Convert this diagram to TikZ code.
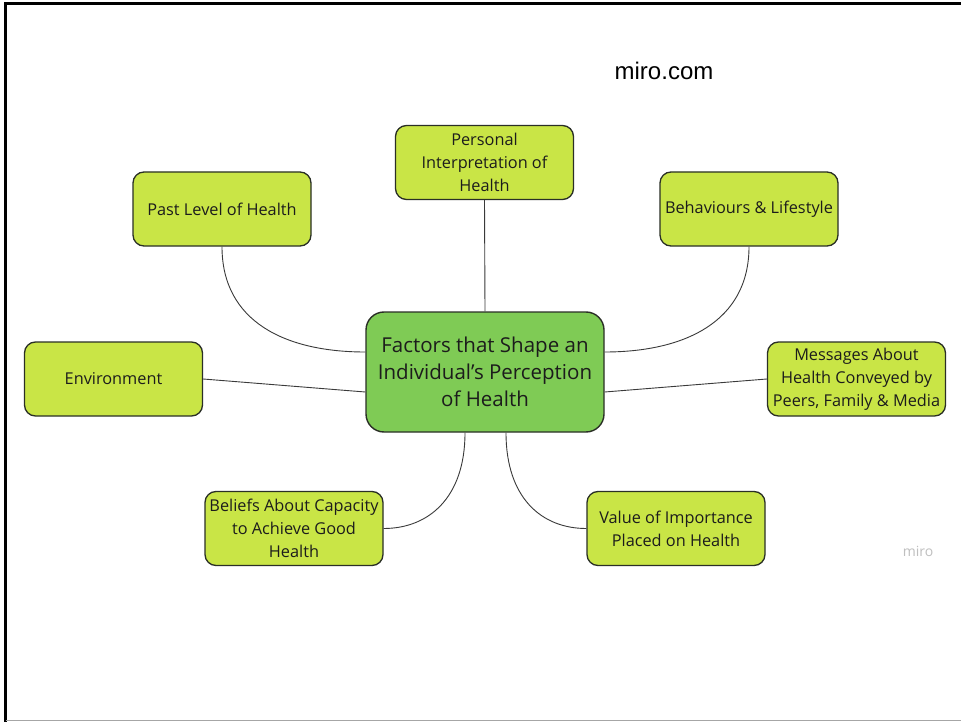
\documentclass[tikz,border=0pt]{standalone}
\usepackage{fontspec}
\setmainfont{Open Sans}
\newfontfamily\arialfont{Liberation Sans}
\definecolor{leafgreen}{HTML}{C9E546}
\definecolor{hubgreen}{HTML}{7FCB55}
\definecolor{edgedark}{HTML}{2A2F26}
\definecolor{inkgray}{HTML}{1C1C1C}
\definecolor{linkgray}{HTML}{3A3A3A}
\newcommand{\apos}{{\char"0027}}
\begin{document}
\begin{tikzpicture}[x=1pt,y=-1pt,
  leaf/.style={draw=edgedark, line width=1.3pt, fill=leafgreen, rounded corners=11pt,
    minimum width=178pt, minimum height=74pt, inner sep=1pt, align=center,
    text=inkgray, font=\fontsize{16.3}{23}\selectfont},
  hub/.style={draw=edgedark, line width=1.4pt, fill=hubgreen, rounded corners=18pt,
    minimum width=238pt, minimum height=120pt, inner sep=2pt, align=center,
    text=inkgray, font=\fontsize{20.5}{27}\selectfont},
  link/.style={draw=linkgray, line width=0.9pt}]
\useasboundingbox (0,0) rectangle (961,722);
\fill[white] (0,0) rectangle (961,722);
% frame
\draw[line width=3pt, line cap=rect] (5.5,720) -- (5.5,4) -- (961,4);
\draw[gray!70, line width=1.5pt] (5.5,720.5) -- (961,720.5);

% boxes
\node[hub] (hub) at (485,372) {Factors that Shape an\\Individual\apos s Perception\\of Health};
\node[leaf] (interp) at (484.5,162.5) {Personal\\Interpretation of\\Health};
\node[leaf] (past) at (222,209) {Past Level of Health};
\node[leaf] (behav) at (749,209) {Behaviours \& Lifestyle};
\node[leaf] (env) at (113.5,379) {Environment};
\node[leaf] (msg) at (856.5,379) {Messages About\\Health Conveyed by\\Peers, Family \& Media};
\node[leaf] (belief) at (294,528.5) {Beliefs About Capacity\\to Achieve Good\\Health};
\node[leaf] (value) at (676,528.5) {Value of Importance\\Placed on Health};

% connectors (y axis points down, so a negative yshift moves a point downwards)
\draw[link] (interp.south) -- (hub.north);
\draw[link] (past.south) .. controls ([yshift=-75pt]past.south) and ([xshift=-80pt,yshift=20pt]hub.west) .. ([yshift=20pt]hub.west);
\draw[link] (behav.south) .. controls ([yshift=-75pt]behav.south) and ([xshift=80pt,yshift=20pt]hub.east) .. ([yshift=20pt]hub.east);
\draw[link] (env.east) -- ([yshift=-20pt]hub.west);
\draw[link] (msg.west) -- ([yshift=-20pt]hub.east);
\draw[link] ([xshift=-20pt]hub.south) .. controls ([xshift=-20pt,yshift=-65pt]hub.south) and ([xshift=45pt]belief.east) .. (belief.east);
\draw[link] ([xshift=21pt]hub.south) .. controls ([xshift=21pt,yshift=-65pt]hub.south) and ([xshift=-45pt]value.west) .. (value.west);

\node[anchor=center, font=\arialfont\fontsize{24}{28}\selectfont] (site) at (664,71) {miro.com};
\node[anchor=center, text=black!25, font=\fontsize{14}{16}\selectfont] (mark) at (918,551) {miro};
\end{tikzpicture}
\end{document}
